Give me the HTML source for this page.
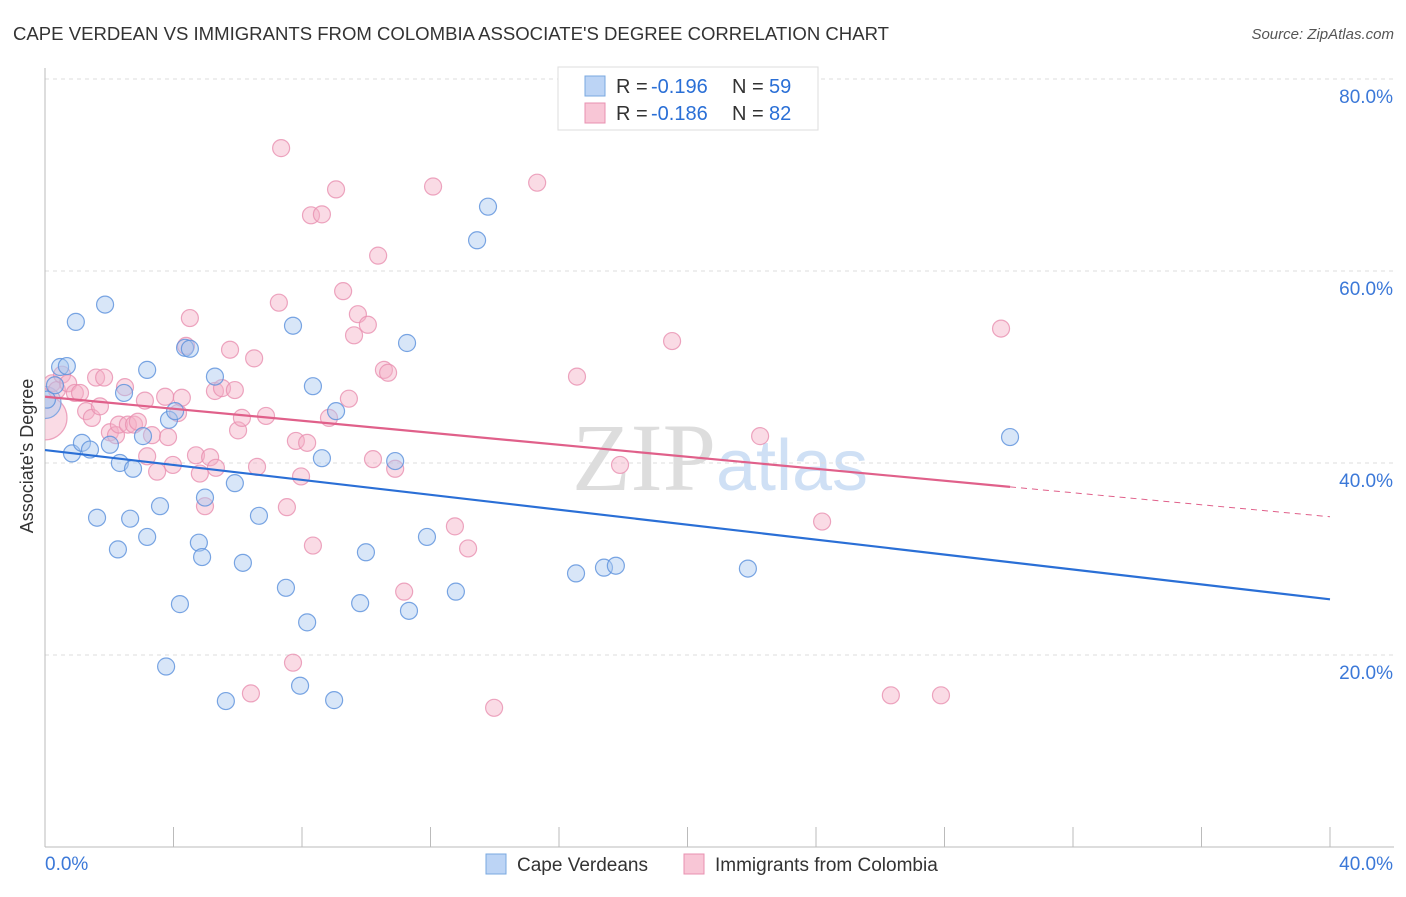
<!DOCTYPE html>
<html><head><meta charset="utf-8"><style>
body{margin:0;background:#fff;font-family:"Liberation Sans",sans-serif}
</style></head><body>
<svg id="chart" width="1406" height="892" xmlns="http://www.w3.org/2000/svg" font-family="Liberation Sans, sans-serif">
<defs><clipPath id="plotclip"><rect x="45" y="60" width="1360" height="790"/></clipPath></defs>
<text x="13" y="40" font-size="18" fill="#333" textLength="876" lengthAdjust="spacingAndGlyphs">CAPE VERDEAN VS IMMIGRANTS FROM COLOMBIA ASSOCIATE'S DEGREE CORRELATION CHART</text>
<text x="1394" y="39" font-size="15" fill="#555" font-style="italic" text-anchor="end">Source: ZipAtlas.com</text>
<text x="720" y="490" font-size="96" text-anchor="middle" fill="#ddd" font-family="Liberation Serif, serif">ZIP<tspan fill="#cfe0f5" font-family="Liberation Sans, sans-serif" font-size="72">atlas</tspan></text>
<g id="grid"></g><g id="axes"></g><g id="marks" clip-path="url(#plotclip)"></g>
<text transform="translate(33,456) rotate(-90)" font-size="18" fill="#333" text-anchor="middle">Associate's Degree</text>
<g>
<rect x="558" y="67" width="260" height="63" fill="#fff" stroke="#ddd"/>
<rect x="585" y="76" width="20" height="20" fill="#bcd4f5" stroke="#7aa8e0"/>
<rect x="585" y="103" width="20" height="20" fill="#f8c6d6" stroke="#e890b0"/>
<text x="616" y="93" font-size="20" fill="#333">R =</text><text x="651" y="93" font-size="20" fill="#2a6fd6">-0.196</text>
<text x="732" y="93" font-size="20" fill="#333">N =</text><text x="769" y="93" font-size="20" fill="#2a6fd6">59</text>
<text x="616" y="120" font-size="20" fill="#333">R =</text><text x="651" y="120" font-size="20" fill="#2a6fd6">-0.186</text>
<text x="732" y="120" font-size="20" fill="#333">N =</text><text x="769" y="120" font-size="20" fill="#2a6fd6">82</text>
</g>
<g>
<rect x="486" y="854" width="20" height="20" fill="#bcd4f5" stroke="#7aa8e0"/>
<text x="517" y="871" font-size="19" fill="#333">Cape Verdeans</text>
<rect x="684" y="854" width="20" height="20" fill="#f8c6d6" stroke="#e890b0"/>
<text x="715" y="871" font-size="19" fill="#333">Immigrants from Colombia</text>
</g>
</svg>
<script>
const yTicks=[20,40,60,80];
const yTickLabels=["20.0%","40.0%","60.0%","80.0%"];
const xTicks=[0,4,8,12,16,20,24,28,32,36,40];
const blueX=[0.06,0.31,0.47,0.68,0.96,0.84,1.15,1.40,1.62,1.87,2.02,2.27,2.33,2.46,2.65,2.74,3.05,3.18,3.18,3.58,3.77,3.86,4.05,4.20,4.36,4.51,4.79,4.89,4.98,5.29,5.63,5.91,6.16,6.66,7.50,7.72,7.94,8.16,8.34,8.62,9.00,9.06,9.81,9.99,10.90,11.27,11.33,11.89,12.79,13.45,13.79,16.53,17.40,17.77,21.88,30.04];
const blueY=[46.6,48.1,50.0,50.1,54.7,41.0,42.1,41.4,34.3,56.5,41.9,31.0,40.0,47.3,34.2,39.4,42.8,49.7,32.3,35.5,18.8,44.5,45.4,25.3,52.0,51.9,31.7,30.2,36.4,49.0,15.2,37.9,29.6,34.5,27.0,54.3,16.8,23.4,48.0,40.5,15.3,45.4,25.4,30.7,40.2,52.5,24.6,32.3,26.6,63.2,66.7,28.5,29.1,29.3,29.0,42.7];
const pinkX=[0.22,0.37,0.53,0.72,0.93,1.09,1.28,1.46,1.59,1.71,1.84,2.02,2.21,2.30,2.49,2.58,2.77,2.89,3.11,3.18,3.33,3.49,3.74,3.83,3.98,4.14,4.26,4.51,4.39,4.70,4.82,4.98,5.14,5.32,5.29,5.51,5.76,5.91,6.01,6.13,6.41,6.51,6.60,6.88,7.28,7.35,7.53,7.81,7.97,8.16,8.34,7.72,8.28,8.62,9.06,8.84,9.28,9.46,9.62,9.74,10.05,10.21,10.37,10.55,10.68,10.90,11.18,12.08,12.76,13.17,13.98,15.32,16.56,17.90,19.52,22.26,24.19,26.33,27.89,29.76];
const pinkY=[48.3,47.6,49.2,48.3,47.3,47.3,45.4,44.7,48.9,45.9,48.9,43.2,42.9,44.0,47.9,44.0,44.0,44.3,46.5,40.7,42.9,39.1,46.9,42.7,39.8,45.2,46.8,55.1,52.2,40.8,38.9,35.5,40.6,39.5,47.5,47.8,51.8,47.6,43.4,44.7,16.0,50.9,39.6,44.9,56.7,72.8,35.4,42.3,38.6,42.1,31.4,19.2,65.8,65.9,68.5,44.7,57.9,46.7,53.3,55.5,54.4,40.4,61.6,49.7,49.4,39.4,26.6,68.8,33.4,31.1,14.5,69.2,49.0,39.8,52.7,42.8,33.9,15.8,15.8,54.0];
const blueBig=[0,46.3];
const pinkBig=[0,44.7];
const blueTrend=[41.35,25.8];
const pinkTrend=[46.9,34.4];
const pinkSolidEnd=30.04;

const NS="http://www.w3.org/2000/svg";
const sx=v=>45+v*32.125;
const sy=v=>847-v*9.6;
function mk(tag,attrs,parent){const e=document.createElementNS(NS,tag);for(const k in attrs)e.setAttribute(k,attrs[k]);document.getElementById(parent).appendChild(e);return e;}
yTicks.forEach((t,i)=>{
  const l=mk('line',{x1:45,x2:1394,y1:sy(t),y2:sy(t),stroke:'#ddd','stroke-dasharray':'4,4'},'grid');
  
  
  const tx=mk('text',{x:1393,y:sy(t)+24,'font-size':19,fill:'#3b78d8','text-anchor':'end'},'grid');
  tx.textContent=yTickLabels[i];
  
  
});
const ax=mk('line',{x1:45,x2:45,y1:68,y2:847,stroke:'#bbb'},'axes');


const bx=mk('line',{x1:45,x2:1394,y1:847,y2:847,stroke:'#bbb'},'axes');


xTicks.forEach(t=>{
  const l=mk('line',{x1:sx(t),x2:sx(t),y1:827,y2:847,stroke:'#bbb'},'axes');
  
  
});
const x0=mk('text',{x:45,y:870,'font-size':19,fill:'#3b78d8'},'axes');x0.textContent='0.0%';


const x1=mk('text',{x:1393,y:870,'font-size':19,fill:'#3b78d8','text-anchor':'end'},'axes');x1.textContent='40.0%';



function pt(x,y,r,fill,stroke,name){
  const c=mk('circle',{cx:sx(x),cy:sy(y),r:r,fill:fill,'fill-opacity':0.45,stroke:stroke,'stroke-width':1.2,'stroke-opacity':0.8},'marks');
  
  
}
pt(pinkBig[0],pinkBig[1],22,'#f5b0c6','#e890b0','pink-point-large');
pt(blueBig[0],blueBig[1],16,'#a8c8f0','#6a9be0','blue-point-large');
pinkX.forEach((x,i)=>pt(x,pinkY[i],8.5,'#f5b0c6','#e890b0','pink-point'));
blueX.forEach((x,i)=>pt(x,blueY[i],8.5,'#a8c8f0','#5a90dc','blue-point'));
const bl=mk('line',{x1:sx(0),y1:sy(blueTrend[0]),x2:sx(40),y2:sy(blueTrend[1]),stroke:'#2a6fd6','stroke-width':2.2},'marks');


const pm=pinkTrend[0]+(pinkTrend[1]-pinkTrend[0])*pinkSolidEnd/40;
const pl=mk('line',{x1:sx(0),y1:sy(pinkTrend[0]),x2:sx(pinkSolidEnd),y2:sy(pm),stroke:'#e0608a','stroke-width':2.2},'marks');


const pd=mk('line',{x1:sx(pinkSolidEnd),y1:sy(pm),x2:sx(40),y2:sy(pinkTrend[1]),stroke:'#e0608a','stroke-width':1,'stroke-dasharray':'6,5'},'marks');


</script>
</body></html>
